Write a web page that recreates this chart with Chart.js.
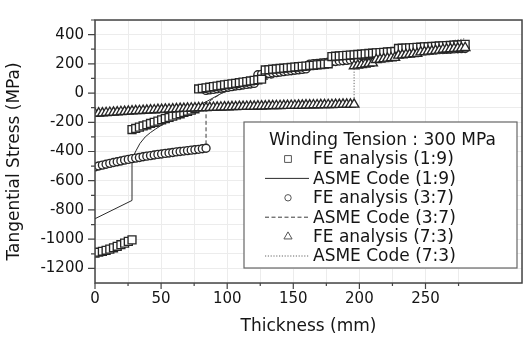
<!DOCTYPE html>
<html>
<head>
<meta charset="utf-8">
<script src="https://cdn.jsdelivr.net/npm/chart.js@4.4.0/dist/chart.umd.min.js"></script>
<style>
  html, body { margin: 0; padding: 0; background: #fff; }
  canvas { display: block; }
</style>
</head>
<body>
<canvas id="stress-chart" width="529" height="338"></canvas>
<script>
// radial position of every FE node (mm)
const thickness = [0, 2.8, 5.6, 8.4, 11.2, 14, 16.8, 19.6, 22.4, 25.2, 28, 30.8, 33.6, 36.4, 39.2, 42,
  44.8, 47.6, 50.4, 53.2, 56, 58.8, 61.6, 64.4, 67.2, 70, 72.8, 75.6, 78.4, 81.2, 84, 86.8, 89.6,
  92.4, 95.2, 98, 100.8, 103.6, 106.4, 109.2, 112, 114.8, 117.6, 120.4, 123.2, 126, 128.8, 131.6,
  134.4, 137.2, 140, 142.8, 145.6, 148.4, 151.2, 154, 156.8, 159.6, 162.4, 165.2, 168, 170.8, 173.6,
  176.4, 179.2, 182, 184.8, 187.6, 190.4, 193.2, 196, 198.8, 201.6, 204.4, 207.2, 210, 212.8, 215.6,
  218.4, 221.2, 224, 226.8, 229.6, 232.4, 235.2, 238, 240.8, 243.6, 246.4, 249.2, 252, 254.8, 257.6,
  260.4, 263.2, 266, 268.8, 271.6, 274.4, 277.2, 280];

// FE results: inner part starts at 0 mm, outer (wound) part ends at 280 mm
const fe19Inner = [-1095, -1089, -1083, -1076, -1068, -1059, -1049, -1038, -1027, -1015, -1005];
const fe19Outer = [-250, -242, -233, -225, -217, -208, -200, -192, -183, -175, -167, -158, -150, -142, -133, -125, -117, -108,
  28, 32, 36, 40, 44, 48, 52, 56, 60, 63, 67, 71, 75, 79, 83, 87, 91, 95,
  158, 160, 163, 165, 168, 170, 173, 175, 178, 180, 183, 185, 188, 190, 193, 195, 198, 200,
  250, 252, 254, 256, 258, 260, 262, 264, 266, 268, 271, 273, 275, 277, 279, 281, 283, 285,
  305, 307, 308, 310, 311, 313, 314, 316, 317, 319, 320, 322, 323, 325, 326, 328, 329, 331, 333];

const fe37Inner = [-505, -499, -493, -487, -481, -475, -470, -465, -459, -454, -449,
  -445, -441, -436, -432, -428, -424, -420, -417, -413, -410,
  -407, -403, -400, -397, -394, -391, -388, -385, -381, -378];
const fe37Outer = [18, 22, 25, 29, 33, 36, 40, 44, 48, 51, 55, 59, 62, 66,
  125, 128, 131, 134, 137, 140, 143, 147, 150, 153, 156, 159, 162, 165,
  198, 201, 203, 206, 208, 211, 214, 216, 219, 221, 224, 227, 229, 232,
  255, 257, 259, 261, 263, 265, 267, 270, 272, 274, 276, 278, 280, 282,
  290, 291, 292, 293, 294, 295, 296, 297, 298, 299, 300, 302, 303, 304, 305];

const fe73Inner = [-140, -138, -137, -135, -133, -132, -130, -128, -127, -125, -124, -122, -121, -120,
  -118, -117, -116, -114, -113, -112, -111, -110, -108, -107, -106, -105, -104, -103, -102, -101,
  -101, -100, -99, -98, -97, -96, -96, -95, -94, -93, -93, -92, -91, -91, -90, -90, -89, -88, -88,
  -87, -87, -86, -86, -85, -85, -84, -84, -83, -83, -82, -82, -81, -81, -80, -80, -79, -79, -78,
  -78, -77, -77];
const fe73Outer = [185, 189, 193, 197, 201, 205, 228, 231, 234, 237, 240, 243,
  258, 260, 263, 265, 268, 270, 280, 282, 285, 287, 290, 292, 298, 300, 302, 304, 306, 308, 310];

// ASME code curves
const asme19X = [0, 28, 28, 31, 34, 38, 42, 46, 50, 55, 60, 65, 70, 76, 85, 96, 110, 125, 140, 160, 180, 200, 220, 240, 260, 280];
const asme19Y = [-860, -735, -450, -395, -345, -300, -270, -245, -222, -195, -170, -145, -122, -97, -55, 0, 45, 90, 125, 170, 205, 235, 260, 280, 297, 310];
const asme37X = [0, 14, 28, 42, 56, 70, 84, 84, 90, 96, 110, 125, 140, 160, 180, 200, 220, 240, 260, 280];
const asme37Y = [-508, -476, -450, -427, -408, -393, -380, -70, -35, 0, 40, 80, 118, 160, 195, 225, 250, 272, 290, 305];
const asme73X = [0, 40, 80, 120, 160, 196, 196, 210, 225, 240, 255, 270, 280];
const asme73Y = [-142, -120, -104, -93, -85, -80, 170, 215, 258, 298, 332, 358, 372];

const seriesLabels = ['FE analysis (1:9)', 'ASME Code (1:9)', 'FE analysis (3:7)',
  'ASME Code (3:7)', 'FE analysis (7:3)', 'ASME Code (7:3)'];
const legendTitle = 'Winding Tension : 300 MPa';
const xTitle = 'Thickness (mm)';
const yTitle = 'Tangential Stress (MPa)';

const FONT = "'DejaVu Sans', sans-serif";
const INK = '#262626';
const TEXT = '#151515';

function nodes(inner, outer) {
  const pts = inner.map((v, i) => ({x: thickness[i], y: v}));
  const off = thickness.length - outer.length;
  return pts.concat(outer.map((v, i) => ({x: thickness[off + i], y: v})));
}
function curve(xs, ys) {
  return xs.map((v, i) => ({x: v, y: ys[i]}));
}

function feSet(label, data, style, r, order) {
  return {
    label: label, data: data, showLine: false,
    pointStyle: style, pointRadius: r, pointBorderWidth: 1.35,
    pointBackgroundColor: '#fff', pointBorderColor: INK, order: order
  };
}
function codeSet(label, data, dash, color, order) {
  return {
    label: label, data: data, showLine: true, borderColor: color, borderWidth: 1,
    borderDash: dash, pointRadius: 0, tension: 0, fill: false, order: order
  };
}

// outer frame, major/minor tick marks and the y title
const frameTicks = {
  id: 'frameTicks',
  afterDatasetsDraw(chart) {
    const {ctx, chartArea: a, scales: {x, y}} = chart;
    ctx.save();
    ctx.strokeStyle = '#444';
    ctx.lineWidth = 1.5;
    ctx.strokeRect(a.left, a.top, a.right - a.left, a.bottom - a.top);
    ctx.lineWidth = 1.2;
    ctx.beginPath();
    x.ticks.forEach(t => {
      if (t.value % 25 !== 0) return;
      const px = x.getPixelForValue(t.value);
      ctx.moveTo(px, a.bottom);
      ctx.lineTo(px, a.bottom + (t.value % 50 === 0 ? 6 : 3));
    });
    y.ticks.forEach(t => {
      if (t.value <= y.min) return;
      const py = y.getPixelForValue(t.value);
      ctx.moveTo(a.left, py);
      ctx.lineTo(a.left - (t.value % 200 === 0 ? 7 : 4), py);
    });
    ctx.stroke();

    // y title sits a bit below the middle of the axis in the original
    ctx.translate(15, (a.top + a.bottom) / 2 + 10);
    ctx.rotate(-Math.PI / 2);
    ctx.fillStyle = TEXT;
    ctx.font = '17px ' + FONT;
    ctx.textAlign = 'center';
    ctx.textBaseline = 'middle';
    ctx.fillText(yTitle, 0, 0);
    ctx.restore();
  }
};

// boxed legend inside the plot
const legendBox = {
  id: 'legendBox',
  afterDraw(chart) {
    const {ctx, chartArea: a} = chart;
    const w = 273, h = 146;
    const left = a.right - 5 - w, top = a.bottom - 15 - h;
    ctx.save();
    ctx.fillStyle = '#fff';
    ctx.fillRect(left, top, w, h);
    ctx.strokeStyle = '#666';
    ctx.lineWidth = 1.2;
    ctx.strokeRect(left, top, w, h);

    ctx.fillStyle = TEXT;
    ctx.font = '17px ' + FONT;
    ctx.textBaseline = 'middle';
    ctx.textAlign = 'center';
    ctx.fillText(legendTitle, left + w / 2 + 2, top + 19);
    ctx.textAlign = 'left';

    chart.data.datasets.forEach((ds, i) => {
      const cy = top + 37 + i * 19.4;
      const cx = left + 44;
      ctx.save();
      if (ds.showLine === false) {
        ctx.fillStyle = '#fff';
        ctx.strokeStyle = '#555';
        ctx.lineWidth = 1;
        Chart.helpers.drawPoint(ctx, {pointStyle: ds.pointStyle, radius: ds.pointRadius - 0.8, rotation: 0, borderWidth: 1}, cx, cy);
      } else {
        ctx.strokeStyle = ds.borderColor;
        ctx.lineWidth = 1;
        ctx.setLineDash(ds.borderDash);
        ctx.beginPath();
        ctx.moveTo(left + 21, cy);
        ctx.lineTo(left + 65, cy);
        ctx.stroke();
      }
      ctx.restore();
      ctx.fillText(ds.label, left + 69, cy + 1);
    });
    ctx.restore();
  }
};

new Chart(document.getElementById('stress-chart'), {
  type: 'scatter',
  data: {
    datasets: [
      feSet(seriesLabels[0], nodes(fe19Inner, fe19Outer), 'rect', 5.6, 2),
      codeSet(seriesLabels[1], curve(asme19X, asme19Y), [], '#2b2b2b', 6),
      feSet(seriesLabels[2], nodes(fe37Inner, fe37Outer), 'circle', 4, 3),
      codeSet(seriesLabels[3], curve(asme37X, asme37Y), [4, 2.5], '#3a3a3a', 5),
      feSet(seriesLabels[4], nodes(fe73Inner, fe73Outer), 'triangle', 5.5, 1),
      codeSet(seriesLabels[5], curve(asme73X, asme73Y), [1.2, 1.6], '#666', 4)
    ]
  },
  options: {
    responsive: false,
    animation: false,
    devicePixelRatio: 1,
    layout: {padding: {top: 6, right: 2, left: 0, bottom: 0}},
    plugins: {legend: {display: false}, tooltip: {enabled: false}},
    scales: {
      x: {
        type: 'linear', min: 0, max: 323,
        afterFit: s => { s.height = 55; },
        ticks: {
          stepSize: 25, padding: 7, color: TEXT, maxRotation: 0, autoSkip: false,
          font: {family: FONT, size: 15},
          callback: v => (v % 50 === 0 ? v : '')
        },
        grid: {color: '#ececec', drawTicks: false},
        border: {display: false},
        title: {display: true, text: xTitle, color: TEXT,
          font: {family: FONT, size: 17}, padding: {top: 0, bottom: 1}}
      },
      y: {
        type: 'linear', min: -1300, max: 500,
        afterFit: s => { s.width = 95; },
        ticks: {
          stepSize: 100, padding: 11, color: TEXT, autoSkip: false,
          font: {family: FONT, size: 15},
          callback: v => (v % 200 === 0 && v !== -1300 ? v : '')
        },
        grid: {color: '#ececec', drawTicks: false},
        border: {display: false},
        title: {display: false}
      }
    }
  },
  plugins: [frameTicks, legendBox]
});
</script>
</body>
</html>
